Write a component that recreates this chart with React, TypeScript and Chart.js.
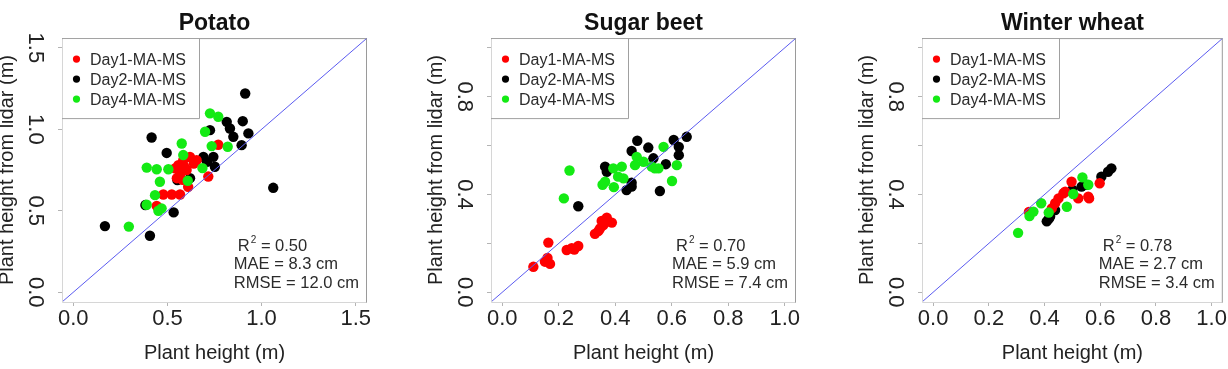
import { useEffect, useRef } from 'react';
import { Chart, registerables } from 'chart.js';

Chart.register(...registerables);

const FONT = "'Liberation Sans', Arial, Helvetica, sans-serif";
Chart.defaults.font.family = FONT;

type Pt = [number, number];

// Series shared by all three crops
const SERIES_NAMES = ['Day1-MA-MS', 'Day2-MA-MS', 'Day4-MA-MS'];
const SERIES_COLORS = ['#ff0000', '#000000', '#14ea14'];
// black drawn lowest, then red, then green; the 1:1 line on top
const SERIES_ORDER = [2, 3, 1];

// Potato: [field height, lidar height] in metres
const potatoDay1: Pt[] = [
  [0.558, 0.78], [0.584, 0.81], [0.62, 0.83], [0.655, 0.81], [0.567, 0.73],
  [0.602, 0.75], [0.54, 0.76], [0.77, 0.905], [0.717, 0.71], [0.478, 0.6],
  [0.523, 0.6], [0.567, 0.6], [0.443, 0.53], [0.61, 0.647], [0.55, 0.7],
  [0.59, 0.77], [0.64, 0.79], [0.58, 0.69],
];
const potatoDay2: Pt[] = [
  [0.416, 0.95], [0.496, 0.855], [0.168, 0.406], [0.407, 0.347], [0.533, 0.49],
  [0.383, 0.535], [0.553, 0.688], [0.691, 0.831], [0.744, 0.831], [0.752, 0.77],
  [0.726, 0.995], [0.815, 1.046], [0.832, 1.005], [0.85, 0.954], [0.9, 1.05],
  [0.93, 0.975], [0.894, 0.903], [0.913, 1.22], [1.062, 0.641], [0.71, 0.8],
  [0.62, 0.7],
];
const potatoDay4: Pt[] = [
  [0.726, 1.098], [0.77, 1.077], [0.7, 0.985], [0.576, 0.913], [0.584, 0.842],
  [0.735, 0.897], [0.82, 0.893], [0.39, 0.765], [0.443, 0.755], [0.505, 0.755],
  [0.686, 0.762], [0.46, 0.678], [0.608, 0.684], [0.434, 0.596], [0.39, 0.537],
  [0.452, 0.5], [0.469, 0.515], [0.295, 0.403],
];

// Sugar beet
const beetDay1: Pt[] = [
  [0.11, 0.104], [0.151, 0.125], [0.169, 0.116], [0.163, 0.203], [0.228, 0.173],
  [0.246, 0.18], [0.269, 0.189], [0.328, 0.239], [0.346, 0.261], [0.352, 0.292],
  [0.37, 0.305], [0.388, 0.285], [0.358, 0.275], [0.16, 0.14], [0.255, 0.175],
  [0.34, 0.25], [0.375, 0.29],
];
const beetDay2: Pt[] = [
  [0.269, 0.352], [0.478, 0.62], [0.458, 0.578], [0.517, 0.592], [0.364, 0.514],
  [0.37, 0.493], [0.44, 0.418], [0.458, 0.432], [0.558, 0.414], [0.579, 0.524],
  [0.607, 0.623], [0.625, 0.595], [0.625, 0.561], [0.653, 0.636], [0.535, 0.548],
  [0.458, 0.448],
];
const beetDay4: Pt[] = [
  [0.238, 0.498], [0.218, 0.384], [0.355, 0.44], [0.395, 0.43], [0.393, 0.507],
  [0.423, 0.514], [0.429, 0.466], [0.476, 0.554], [0.47, 0.52], [0.5, 0.534],
  [0.529, 0.514], [0.553, 0.507], [0.571, 0.595], [0.618, 0.52], [0.601, 0.455],
  [0.41, 0.473], [0.364, 0.452], [0.54, 0.507],
];

// Winter wheat
const wheatDay1: Pt[] = [
  [0.344, 0.329], [0.426, 0.343], [0.438, 0.364], [0.45, 0.384], [0.468, 0.405],
  [0.474, 0.411], [0.497, 0.452], [0.521, 0.384], [0.557, 0.391], [0.598, 0.446],
  [0.56, 0.384],
];
const wheatDay2: Pt[] = [
  [0.408, 0.29], [0.415, 0.3], [0.438, 0.336], [0.533, 0.432], [0.604, 0.473],
  [0.628, 0.493], [0.64, 0.507], [0.42, 0.31], [0.5, 0.42], [0.55, 0.44],
];
const wheatDay4: Pt[] = [
  [0.305, 0.243], [0.346, 0.312], [0.388, 0.364], [0.415, 0.326], [0.48, 0.35],
  [0.503, 0.402], [0.536, 0.47], [0.557, 0.44], [0.36, 0.33],
];

// Titles and accuracy statistics
const CROPS = ['Potato', 'Sugar beet', 'Winter wheat'];
const R2_VALUES = ['0.50', '0.70', '0.78'];
const MAE_VALUES = ['8.3', '5.9', '2.7'];
const RMSE_VALUES = ['12.0', '7.4', '3.4'];

// Axes
const X_TITLE = 'Plant height (m)';
const Y_TITLE = 'Plant height from lidar (m)';
const potatoLimits = [-0.06, 1.56];
const unitLimits = [-0.04, 1.04];
const potatoTicks = [0, 0.5, 1.0, 1.5];
const potatoTickLabels = ['0.0', '0.5', '1.0', '1.5'];
const unitTicks = [0, 0.2, 0.4, 0.6, 0.8, 1.0];
const unitXTickLabels = ['0.0', '0.2', '0.4', '0.6', '0.8', '1.0'];
const unitYTickLabels = ['0.0', '', '0.4', '', '0.8', ''];

type PanelSpec = {
  title: string;
  series: Pt[][];
  limits: number[];
  xTicks: number[];
  xLabels: string[];
  yTicks: number[];
  yLabels: string[];
  r2: string;
  mae: string;
  rmse: string;
  left: number;
  plotWidth: number;
  rightPad: number;
};

const AXIS_W = 68;
const AXIS_H = 67;
const CANVAS_H = 369;

const PANELS: PanelSpec[] = [
  {
    title: CROPS[0], series: [potatoDay1, potatoDay2, potatoDay4], limits: potatoLimits,
    xTicks: potatoTicks, xLabels: potatoTickLabels, yTicks: potatoTicks, yLabels: potatoTickLabels,
    r2: R2_VALUES[0], mae: MAE_VALUES[0], rmse: RMSE_VALUES[0],
    left: -6, plotWidth: 305, rightPad: 38,
  },
  {
    title: CROPS[1], series: [beetDay1, beetDay2, beetDay4], limits: unitLimits,
    xTicks: unitTicks, xLabels: unitXTickLabels, yTicks: unitTicks, yLabels: unitYTickLabels,
    r2: R2_VALUES[1], mae: MAE_VALUES[1], rmse: RMSE_VALUES[1],
    left: 423, plotWidth: 305, rightPad: 26,
  },
  {
    title: CROPS[2], series: [wheatDay1, wheatDay2, wheatDay4], limits: unitLimits,
    xTicks: unitTicks, xLabels: unitXTickLabels, yTicks: unitTicks, yLabels: unitYTickLabels,
    r2: R2_VALUES[2], mae: MAE_VALUES[2], rmse: RMSE_VALUES[2],
    left: 854, plotWidth: 304, rightPad: 2,
  },
];

// Frame, inset legend and the statistics block
const decorations = (spec: PanelSpec) => ({
  id: 'decorations',
  afterDraw(chart: Chart) {
    const { ctx, chartArea: ca } = chart;
    ctx.save();

    // plot frame
    ctx.lineWidth = 1;
    ctx.strokeStyle = '#d6d6d6';
    ctx.beginPath();
    ctx.moveTo(ca.left + 0.5, ca.top);
    ctx.lineTo(ca.left + 0.5, ca.bottom + 0.5);
    ctx.lineTo(ca.right, ca.bottom + 0.5);
    ctx.stroke();
    ctx.strokeStyle = '#9a9a9a';
    ctx.beginPath();
    ctx.moveTo(ca.left, ca.top + 0.5);
    ctx.lineTo(ca.right - 0.5, ca.top + 0.5);
    ctx.lineTo(ca.right - 0.5, ca.bottom + 0.5);
    ctx.stroke();

    // legend box
    const lw = 137;
    const lh = 80;
    ctx.fillStyle = '#ffffff';
    ctx.fillRect(ca.left + 1, ca.top + 1, lw - 1, lh - 1);
    ctx.strokeStyle = '#a0a0a0';
    ctx.beginPath();
    ctx.moveTo(ca.left + lw + 0.5, ca.top);
    ctx.lineTo(ca.left + lw + 0.5, ca.top + lh + 0.5);
    ctx.lineTo(ca.left, ca.top + lh + 0.5);
    ctx.stroke();
    ctx.font = `16px ${FONT}`;
    ctx.textBaseline = 'middle';
    ctx.textAlign = 'left';
    SERIES_NAMES.forEach((name, i) => {
      const y = ca.top + 21 + i * 20;
      ctx.fillStyle = SERIES_COLORS[i];
      ctx.beginPath();
      ctx.arc(ca.left + 14.5, y, 3.6, 0, Math.PI * 2);
      ctx.fill();
      ctx.fillStyle = '#2b2b2b';
      ctx.fillText(name, ca.left + 28, y + 1);
    });

    // statistics
    const big = `16.5px ${FONT}`;
    ctx.font = big;
    ctx.fillStyle = '#2b2b2b';
    const maeText = `MAE = ${spec.mae} cm`;
    const rmseText = `RMSE = ${spec.rmse} cm`;
    const w = Math.max(ctx.measureText(maeText).width, ctx.measureText(rmseText).width);
    const x0 = ca.right - 8 - w;
    const y1 = ca.bottom - 56;
    let x = x0 + 4;
    ctx.fillText('R', x, y1);
    x += ctx.measureText('R').width + 1;
    ctx.font = `10px ${FONT}`;
    ctx.fillText('2', x, y1 - 6);
    x += ctx.measureText('2').width;
    ctx.font = big;
    ctx.fillText(` = ${spec.r2}`, x, y1);
    ctx.fillText(maeText, x0, ca.bottom - 37.5);
    ctx.fillText(rmseText, x0, ca.bottom - 19);

    ctx.restore();
  },
});

function Panel({ spec }: { spec: PanelSpec }) {
  const ref = useRef<HTMLCanvasElement | null>(null);
  const width = AXIS_W + spec.plotWidth + spec.rightPad;

  useEffect(() => {
    if (!ref.current) return;
    const [lo, hi] = spec.limits;
    const datasets: any[] = spec.series.map((pts, i) => ({
      type: 'scatter',
      label: SERIES_NAMES[i],
      data: pts.map(([x, y]) => ({ x, y })),
      backgroundColor: SERIES_COLORS[i],
      borderWidth: 0,
      pointRadius: 5.2,
      order: SERIES_ORDER[i],
    }));
    datasets.push({
      type: 'line',
      label: '1:1',
      data: [{ x: lo, y: lo }, { x: hi, y: hi }],
      borderColor: '#5b5bf0',
      borderWidth: 1,
      pointRadius: 0,
      order: 0,
    });

    const chart = new Chart(ref.current, {
      type: 'scatter',
      data: { datasets },
      options: {
        responsive: false,
        animation: false,
        events: [],
        layout: { padding: { left: 0, right: spec.rightPad, top: 0, bottom: 0 } },
        plugins: {
          legend: { display: false },
          tooltip: { enabled: false },
          title: {
            display: true,
            text: spec.title,
            fullSize: false,
            color: '#111111',
            font: { size: 23, weight: 'bold' },
            padding: { top: 9.5, bottom: 1 },
          },
        },
        scales: {
          x: {
            type: 'linear',
            min: lo,
            max: hi,
            afterBuildTicks: (s: any) => {
              s.ticks = spec.xTicks.map((value) => ({ value }));
            },
            afterFit: (s: any) => {
              s.height = AXIS_H;
              s.paddingLeft = 0;
              s.paddingRight = 0;
            },
            ticks: {
              autoSkip: false,
              minRotation: 0,
              maxRotation: 0,
              padding: 0,
              color: '#222222',
              font: { size: 22 },
              callback: (_v: any, i: number) => spec.xLabels[i],
            },
            grid: { drawOnChartArea: false, drawTicks: true, tickLength: 4, color: '#b4b4b4' },
            border: { display: false },
            title: {
              display: true,
              text: X_TITLE,
              color: '#222222',
              font: { size: 20 },
              padding: { top: 0, bottom: 4 },
            },
          },
          y: {
            type: 'linear',
            min: lo,
            max: hi,
            afterBuildTicks: (s: any) => {
              s.ticks = spec.yTicks.map((value) => ({ value }));
            },
            afterFit: (s: any) => {
              s.width = AXIS_W;
              s.paddingTop = 0;
              s.paddingBottom = 0;
            },
            ticks: {
              autoSkip: false,
              minRotation: -90,
              maxRotation: -90,
              crossAlign: 'center',
              padding: 8,
              color: '#222222',
              font: { size: 22 },
              callback: (_v: any, i: number) => spec.yLabels[i],
            },
            grid: { drawOnChartArea: false, drawTicks: true, tickLength: 4, color: '#b4b4b4' },
            border: { display: false },
            title: {
              display: true,
              text: Y_TITLE,
              color: '#222222',
              font: { size: 20 },
              padding: { top: 1, bottom: 0 },
            },
          },
        },
      } as any,
      plugins: [decorations(spec)],
    });
    return () => chart.destroy();
  }, [spec]);

  return (
    <canvas
      ref={ref}
      width={width}
      height={CANVAS_H}
      style={{ position: 'absolute', left: spec.left, top: 0, width, height: CANVAS_H }}
    />
  );
}

export default function App() {
  return (
    <div
      style={{
        position: 'absolute',
        left: 0,
        top: 0,
        width: 1228,
        height: CANVAS_H,
        overflow: 'hidden',
        background: '#ffffff',
      }}
    >
      {PANELS.map((spec) => (
        <Panel key={spec.title} spec={spec} />
      ))}
    </div>
  );
}
